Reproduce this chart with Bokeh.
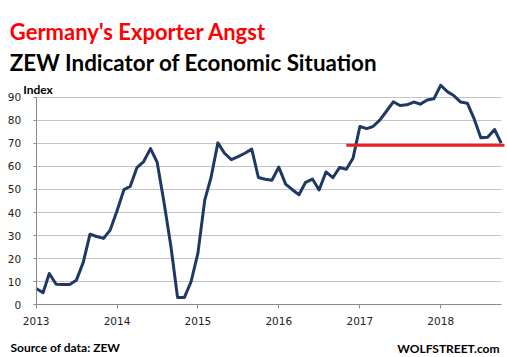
import pandas as pd
from bokeh.plotting import figure
from bokeh.models import (ColumnDataSource, FixedTicker, Label, Range1d,
                          DatetimeTickFormatter, Grid)
from bokeh.embed import file_html
from bokeh.resources import INLINE

# ---- data ----
first_month = "2013-01-01"
zew_values = [
    7.1, 5.2, 13.6, 8.9, 8.8, 8.8, 10.6, 18.3, 30.6, 29.6, 28.8, 32.4,      # 2013
    40.8, 49.9, 51.3, 59.5, 62.1, 67.7, 61.8, 44.3, 25.4, 3.2, 3.2, 10.0,   # 2014
    22.4, 45.5, 55.1, 70.2, 65.7, 62.9, 64.2, 65.7, 67.5, 55.2, 54.4, 54.0, # 2015
    59.7, 52.3, 50.0, 47.7, 53.1, 54.5, 49.8, 57.6, 55.1, 59.5, 58.8, 63.5, # 2016
    77.3, 76.4, 77.3, 80.1, 83.9, 88.0, 86.4, 86.7, 87.9, 87.0, 88.8, 89.3, # 2017
    95.2, 92.3, 90.7, 87.9, 87.4, 80.6, 72.4, 72.6, 76.0, 70.1,             # 2018
]
year_labels = ["2013", "2014", "2015", "2016", "2017", "2018"]
y_ticks = [0, 10, 20, 30, 40, 50, 60, 70, 80, 90]
ref_level = 69.2
ref_start = "2016-11-01"
ref_end = "2018-10-16"

title_text = "Germany's Exporter Angst"
subtitle_text = "ZEW Indicator of  Economic Situation"
y_label_text = "Index"
source_text = "Source of data: ZEW"
brand_text = "WOLFSTREET.com"

# ---- layout (pixels) ----
W, H = 507, 357
x_first_px, x_last_px = 35.7, 500.7      # Jan 2013 / last month, from left
y_zero_px, y_top_px = 304.3, 96.7         # value 0 / top tick, from top

dates = pd.date_range(first_month, periods=len(zew_values), freq="MS")
src = ColumnDataSource(dict(date=dates, value=zew_values))

t0 = dates[0].timestamp() * 1000
t1 = dates[-1].timestamp() * 1000
ms_per_px = (t1 - t0) / (x_last_px - x_first_px)
x_start = t0 - x_first_px * ms_per_px
x_end = t1 + (W - x_last_px) * ms_per_px
unit_px = (y_zero_px - y_top_px) / y_ticks[-1]
y_start = -(H - y_zero_px) / unit_px
y_end = y_zero_px / unit_px

p = figure(
    x_axis_type="datetime", width=W, height=H,
    min_border=0, min_border_left=0, min_border_right=0,
    min_border_top=0, min_border_bottom=0,
    x_range=Range1d(x_start, x_end), y_range=Range1d(y_start, y_end),
    output_backend="svg", toolbar_location=None,
)
p.outline_line_color = None
p.background_fill_color = "white"
p.border_fill_color = "white"

tick_font = "DejaVu Sans"
axis_gray = "#8a8a8a"
grid_gray = "#c4c4c4"

yt = FixedTicker(ticks=y_ticks)
p.yaxis.ticker = yt
p.yaxis.fixed_location = t0
p.yaxis.bounds = (y_ticks[0], y_ticks[-1])
p.yaxis.major_tick_in = 0
p.yaxis.major_tick_out = 3
p.yaxis.minor_tick_line_color = None
p.yaxis.axis_line_color = axis_gray
p.yaxis.major_tick_line_color = axis_gray
p.yaxis.major_label_text_font = tick_font
p.yaxis.major_label_text_font_size = "10.5px"
p.yaxis.major_label_text_color = "#222222"
p.yaxis.major_label_standoff = 12

year_ms = [pd.Timestamp(f"{y}-01-01").timestamp() * 1000 for y in year_labels]
p.xaxis.ticker = FixedTicker(ticks=year_ms)
p.xaxis.fixed_location = 0
p.xaxis.bounds = (t0, t1)
p.xaxis.formatter = DatetimeTickFormatter(
    years="%Y", months="%Y", days="%Y", hours="%Y", minutes="%Y", seconds="%Y",
    milliseconds="%Y", microseconds="%Y", minsec="%Y", hourmin="%Y")
p.xaxis.major_tick_in = 0
p.xaxis.major_tick_out = 4
p.xaxis.minor_tick_line_color = None
p.xaxis.axis_line_color = axis_gray
p.xaxis.major_tick_line_color = axis_gray
p.xaxis.major_label_text_font = tick_font
p.xaxis.major_label_text_font_size = "10.5px"
p.xaxis.major_label_text_color = "#222222"
p.xaxis.major_label_standoff = 8

p.xgrid.grid_line_color = None
if "cross_bounds" in Grid.properties():
    p.ygrid.ticker = yt
    p.ygrid.bounds = (y_ticks[0], y_ticks[-1])
    p.ygrid.cross_bounds = (t0, t1)
    p.ygrid.grid_line_color = grid_gray
    p.ygrid.grid_line_width = 1
else:
    p.ygrid.grid_line_color = None
    p.segment(x0=[dates[0]] * len(y_ticks), x1=[dates[-1]] * len(y_ticks),
              y0=y_ticks, y1=y_ticks, line_color=grid_gray, line_width=1)

p.line(x="date", y="value", source=src, line_width=3, line_color="#1f3864",
       line_join="round")
p.line(x=[pd.Timestamp(ref_start), pd.Timestamp(ref_end)], y=[ref_level, ref_level],
       line_width=3, line_color="#ee1c25")

def add_label(text, px, py, size, color="black", align="left"):
    # px, py: baseline position in picture pixels from the top-left corner
    p.add_layout(Label(x=px, y=H - py, x_units="screen", y_units="screen",
                       text=text, text_font="Lato", text_font_style="bold",
                       text_font_size=size, text_color=color,
                       text_align=align, text_baseline="alphabetic"))

add_label(title_text, 9.3, 30.7, "22px", color="#ff0000")
add_label(subtitle_text, 9.3, 62.3, "22.4px")
add_label(y_label_text, 22.7, 89, "12px")
add_label(source_text, 10, 346.7, "12px")
add_label(brand_text, 499, 347.7, "12px", align="right")

open("out.html", "w").write(file_html(p, INLINE))
